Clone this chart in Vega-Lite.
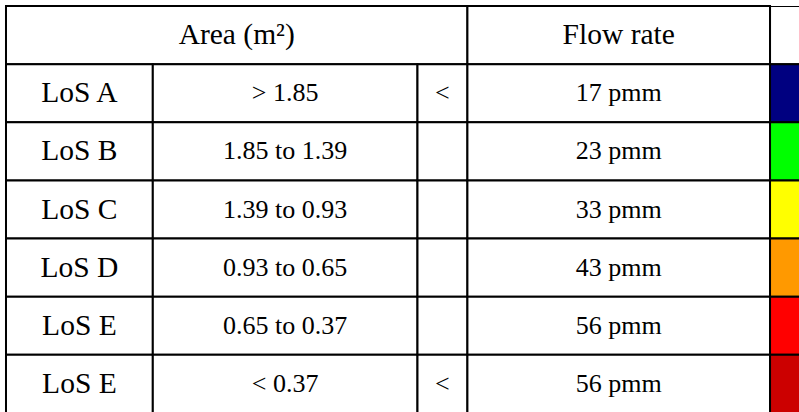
{
  "$schema": "https://vega.github.io/schema/vega-lite/v6.json",
  "width": 799,
  "height": 407,
  "autosize": {"type": "none"},
  "padding": {"top": 6, "left": 0, "right": 0, "bottom": 0},
  "background": "white",
  "config": {"view": {"stroke": null}, "text": {"font": "Liberation Serif", "color": "black", "baseline": "middle", "align": "center"}},
  "datasets": {
    "header": [{"row": 0, "area": "Area (m²)", "flow": "Flow rate"}],
    "rows": [
      {"row": 1, "los": "LoS A", "area": "> 1.85", "cmp": "<", "flow": "17 pmm", "level": "A"},
      {"row": 2, "los": "LoS B", "area": "1.85 to 1.39", "cmp": "", "flow": "23 pmm", "level": "B"},
      {"row": 3, "los": "LoS C", "area": "1.39 to 0.93", "cmp": "", "flow": "33 pmm", "level": "C"},
      {"row": 4, "los": "LoS D", "area": "0.93 to 0.65", "cmp": "", "flow": "43 pmm", "level": "D"},
      {"row": 5, "los": "LoS E", "area": "0.65 to 0.37", "cmp": "", "flow": "56 pmm", "level": "E"},
      {"row": 6, "los": "LoS E", "area": "< 0.37", "cmp": "<", "flow": "56 pmm", "level": "F"}
    ]
  },
  "encoding": {
    "y": {"field": "row", "type": "ordinal", "scale": {"domain": [0, 1, 2, 3, 4, 5, 6], "paddingInner": 0, "paddingOuter": 0}, "axis": null}
  },
  "layer": [
    {"data": {"name": "header"}, "mark": {"type": "rect", "fill": "white", "stroke": "black", "strokeWidth": 2},
     "encoding": {"x": {"datum": 6, "type": "quantitative", "scale": {"domain": [0, 799]}, "axis": null}, "x2": {"datum": 468}}},
    {"data": {"name": "header"}, "mark": {"type": "rect", "fill": "white", "stroke": "black", "strokeWidth": 2},
     "encoding": {"x": {"datum": 468, "type": "quantitative"}, "x2": {"datum": 771}}},
    {"data": {"name": "header"}, "mark": {"type": "rect", "fill": "white", "stroke": "black", "strokeWidth": 2, "clip": true},
     "encoding": {"x": {"datum": 771, "type": "quantitative"}, "x2": {"datum": 812}}},
    {"data": {"name": "rows"}, "mark": {"type": "rect", "fill": "white", "stroke": "black", "strokeWidth": 2},
     "encoding": {"x": {"datum": 6, "type": "quantitative"}, "x2": {"datum": 153}}},
    {"data": {"name": "rows"}, "mark": {"type": "rect", "fill": "white", "stroke": "black", "strokeWidth": 2},
     "encoding": {"x": {"datum": 153, "type": "quantitative"}, "x2": {"datum": 418}}},
    {"data": {"name": "rows"}, "mark": {"type": "rect", "fill": "white", "stroke": "black", "strokeWidth": 2},
     "encoding": {"x": {"datum": 418, "type": "quantitative"}, "x2": {"datum": 468}}},
    {"data": {"name": "rows"}, "mark": {"type": "rect", "fill": "white", "stroke": "black", "strokeWidth": 2},
     "encoding": {"x": {"datum": 468, "type": "quantitative"}, "x2": {"datum": 771}}},
    {"data": {"name": "rows"}, "mark": {"type": "rect", "stroke": "black", "strokeWidth": 2, "clip": true},
     "encoding": {"x": {"datum": 771, "type": "quantitative"}, "x2": {"datum": 812},
       "color": {"field": "level", "type": "nominal", "legend": null,
         "scale": {"domain": ["A", "B", "C", "D", "E", "F"], "range": ["#000080", "#00FF00", "#FFFF00", "#FF9900", "#FF0000", "#CC0000"]}}}},
    {"data": {"name": "header"}, "mark": {"type": "text", "fontSize": 29.5},
     "encoding": {"x": {"datum": 237, "type": "quantitative"}, "text": {"field": "area"}}},
    {"data": {"name": "header"}, "mark": {"type": "text", "fontSize": 29.5},
     "encoding": {"x": {"datum": 619.5, "type": "quantitative"}, "text": {"field": "flow"}}},
    {"data": {"name": "rows"}, "mark": {"type": "text", "fontSize": 29.5},
     "encoding": {"x": {"datum": 79.5, "type": "quantitative"}, "text": {"field": "los"}}},
    {"data": {"name": "rows"}, "mark": {"type": "text", "fontSize": 26},
     "encoding": {"x": {"datum": 285.5, "type": "quantitative"}, "text": {"field": "area"}}},
    {"data": {"name": "rows"}, "mark": {"type": "text", "fontSize": 26},
     "encoding": {"x": {"datum": 443, "type": "quantitative"}, "text": {"field": "cmp"}}},
    {"data": {"name": "rows"}, "mark": {"type": "text", "fontSize": 26},
     "encoding": {"x": {"datum": 619.5, "type": "quantitative"}, "text": {"field": "flow"}}}
  ]
}
